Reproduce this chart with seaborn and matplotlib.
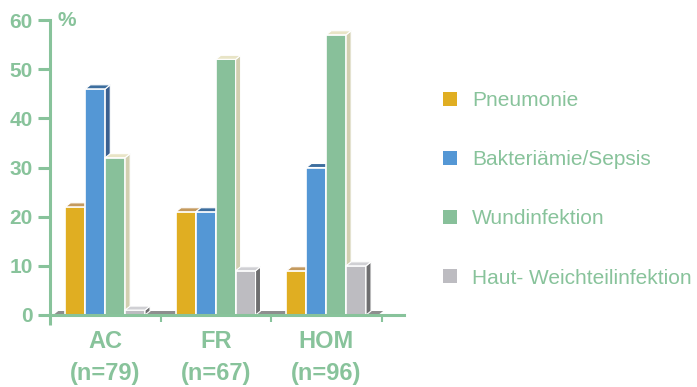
import numpy as np
import pandas as pd
import matplotlib
matplotlib.use("Agg")
import matplotlib.pyplot as plt
import seaborn as sns
from matplotlib.patches import Polygon, Patch

# Infection rates (%) per study group
groups = ["AC", "FR", "HOM"]
group_n = [79, 67, 96]
infections = ["Pneumonie", "Bakteriämie/Sepsis", "Wundinfektion", "Haut- Weichteilinfektion"]
pneumonie = [22, 21, 9]
sepsis = [46, 21, 30]
wundinfektion = [32, 52, 57]
haut_weichteil = [1, 9, 10]

front_colors = ["#E0AE22", "#5497D5", "#88C09A", "#BDBCC1"]
top_colors = ["#C49A5E", "#3D6E9E", "#E8E4C6", "#D0D0D4"]
side_colors = ["#A8801A", "#3A6090", "#D2CFB0", "#6E6E70"]
green = "#88C39B"

series = [pneumonie, sepsis, wundinfektion, haut_weichteil]
rows = []
for name, vals in zip(infections, series):
    for g, v in zip(groups, vals):
        rows.append({"Gruppe": g, "Infektion": name, "Prozent": v})
df = pd.DataFrame(rows)

sns.set_theme(style="white")
plt.rcParams["font.family"] = ["Liberation Sans", "DejaVu Sans"]

W, H = 697, 387
fig = plt.figure(figsize=(W / 100, H / 100), dpi=100)
ax = fig.add_axes([50 / W, 1 - 315 / H, 353.6 / W, (315 - 20) / H])

sns.barplot(data=df, x="Gruppe", y="Prozent", hue="Infektion", order=groups,
            hue_order=infections, palette=front_colors, saturation=1,
            width=0.72, edgecolor="white", linewidth=1.2, legend=False, ax=ax)

ax.set_xlim(-0.5, 2.7)
ax.set_ylim(0, 60)

# depth offsets for the pseudo-3D faces
px_x = ax.bbox.width / (2.7 - (-0.5))
px_y = ax.bbox.height / 60
dx = 5 / px_x
dy = 4 / px_y

# floor slab
floor = Polygon([(-0.47, 0), (2.47, 0), (2.47 + dx, dy), (-0.47 + dx, dy)],
                closed=True, facecolor="#8E8E8E", edgecolor="none", zorder=1.5)
ax.add_patch(floor)

for k, cont in enumerate(ax.containers):
    z = 2 + k * 0.1
    for bar in cont:
        x0 = bar.get_x()
        w = bar.get_width()
        h = bar.get_height()
        x1 = x0 + w
        bar.set_zorder(z)
        side = Polygon([(x1, 0), (x1, h), (x1 + dx, h + dy), (x1 + dx, dy)],
                       closed=True, facecolor=side_colors[k], edgecolor="white",
                       linewidth=0.8, zorder=z + 0.01)
        top = Polygon([(x0, h), (x1, h), (x1 + dx, h + dy), (x0 + dx, h + dy)],
                      closed=True, facecolor=top_colors[k], edgecolor="white",
                      linewidth=0.8, zorder=z + 0.02)
        ax.add_patch(side)
        ax.add_patch(top)

# axes styling
for s in ["top", "right"]:
    ax.spines[s].set_visible(False)
for s in ["left", "bottom"]:
    ax.spines[s].set_color(green)
    ax.spines[s].set_linewidth(2.2)
    ax.spines[s].set_zorder(3)

ax.plot([-0.5, -0.5], [0, -2.0], color=green, lw=2.2, clip_on=False,
        solid_capstyle="butt", zorder=3)

ax.set_yticks(range(0, 61, 10))
ax.tick_params(axis="y", direction="out", length=8.5, width=2.2, color=green,
               labelcolor=green, labelsize=15, pad=4, left=True)
for lbl in ax.get_yticklabels():
    lbl.set_fontweight("bold")

ax.set_xticks(range(len(groups)))
ax.set_xticklabels([f"{g}\n(n={n})" for g, n in zip(groups, group_n)],
                   fontsize=17, fontweight="bold", color=green, linespacing=1.5)
ax.tick_params(axis="x", which="major", length=0, pad=11)
ax.set_xticks([0.5, 1.5, 2.5], minor=True)
ax.tick_params(axis="x", which="minor", direction="out", length=5, width=1.5,
               color=green, bottom=True)

ax.set_xlabel("")
ax.set_ylabel("")

fig.text(58 / W, 1 - 20 / H, "%", fontsize=15, fontweight="bold", color=green,
         ha="left", va="center")

handles = [Patch(facecolor=c, edgecolor="none") for c in front_colors]
fig.legend(handles, infections, loc="upper left", bbox_to_anchor=(443 / W, 1 - 91 / H),
           frameon=False, fontsize=15, handlelength=0.68, handleheight=0.68,
           handletextpad=0.7, labelspacing=1.93, labelcolor=green,
           borderpad=0, borderaxespad=0)

fig.savefig("out.png", dpi=100)
